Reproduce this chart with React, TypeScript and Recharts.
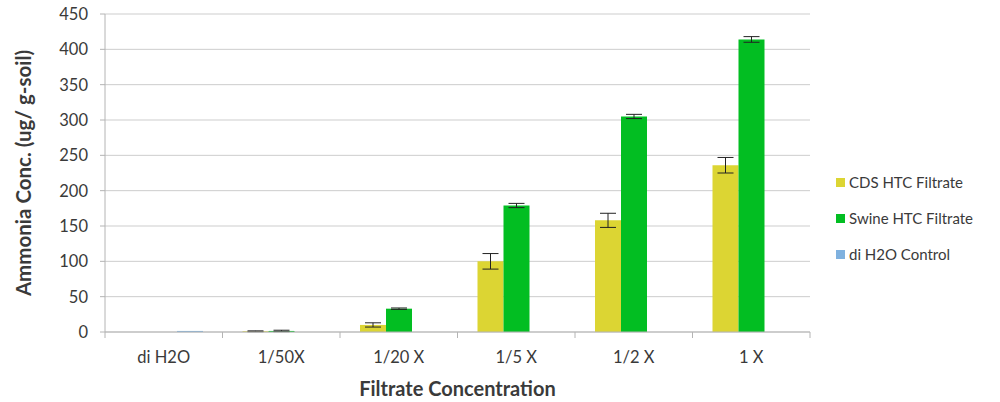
import { Bar, BarChart, CartesianGrid, ErrorBar, XAxis, YAxis } from 'recharts'

// Ammonia concentration by filtrate dilution, three series with error bars.

const categories = ['di H2O', '1/50X', '1/20 X', '1/5 X', '1/2 X', '1 X']
const cdsValues = [0, 1, 10, 100, 158, 236]
const cdsErrors = [null, 0.6, 3, 11, 10, 11]
const swineValues = [0, 1.5, 33, 179, 305, 414]
const swineErrors = [null, 1, 1, 3, 3, 4]
const controlValues = [1.5, 0, 0, 0, 0, 0]
const yTicks = [0, 50, 100, 150, 200, 250, 300, 350, 400, 450]

const SERIES = [
  { key: 'cds', name: 'CDS HTC Filtrate', color: '#dcd533' },
  { key: 'swine', name: 'Swine HTC Filtrate', color: '#02be22' },
  { key: 'control', name: 'di H2O Control', color: '#7fb1df' },
]

const data = categories.map((label, i) => ({
  label,
  cds: cdsValues[i],
  cdsErr: cdsErrors[i],
  swine: swineValues[i],
  swineErr: swineErrors[i],
  control: controlValues[i],
}))

const FONT = 'Lato, "Open Sans", sans-serif'
const TEXT = '#3a3a3a'
const AXIS = '#b4b4b4'
const GRID = '#cdcdcd'

const LEFT = 105
const RIGHT = 190
const WIDTH = 1000
const BAND = (WIDTH - LEFT - RIGHT) / categories.length

function XTick({ x, y, payload, index }: any) {
  const left = x - BAND / 2
  return (
    <g>
      <line x1={left} x2={left} y1={y - 8} y2={y - 2} stroke={AXIS} />
      {index === categories.length - 1 && (
        <line x1={x + BAND / 2} x2={x + BAND / 2} y1={y - 8} y2={y - 2} stroke={AXIS} />
      )}
      <text x={x} y={y + 23} textAnchor="middle" fill={TEXT} fontSize={16.5} fontFamily={FONT}>
        {payload.value}
      </text>
    </g>
  )
}

function LegendBox() {
  return (
    <div
      style={{
        position: 'absolute',
        left: 836,
        top: 164,
        fontFamily: FONT,
        fontSize: 15,
        color: TEXT,
      }}
    >
      {SERIES.map((s) => (
        <div key={s.key} style={{ display: 'flex', alignItems: 'center', height: 36 }}>
          <span
            style={{ width: 9, height: 9, background: s.color, marginRight: 4, display: 'inline-block' }}
          />
          {s.name}
        </div>
      ))}
    </div>
  )
}

export default function App() {
  return (
    <div style={{ position: 'absolute', left: 0, top: 0, width: WIDTH, height: 402, background: '#fff' }}>
      <BarChart
        width={WIDTH}
        height={402}
        data={data}
        margin={{ top: 14, right: RIGHT, bottom: 0, left: 0 }}
        barSize={26}
        barGap={0}
      >
        <CartesianGrid stroke={GRID} vertical={false} />
        <XAxis
          dataKey="label"
          height={70}
          axisLine={{ stroke: AXIS }}
          tickLine={false}
          tick={<XTick />}
          interval={0}
          label={{
            value: 'Filtrate Concentration',
            position: 'insideBottom',
            offset: 6,
            fill: TEXT,
            fontSize: 20,
            fontWeight: 700,
            fontFamily: FONT,
          }}
        />
        <YAxis
          width={LEFT}
          domain={[0, 450]}
          ticks={yTicks}
          interval={0}
          axisLine={{ stroke: AXIS }}
          tickLine={{ stroke: AXIS }}
          tickSize={5}
          tick={{ fill: TEXT, fontSize: 16.5, fontFamily: FONT }}
          tickMargin={12}
          label={{
            value: 'Ammonia Conc. (ug/ g-soil)',
            angle: -90,
            position: 'insideLeft',
            offset: 24,
            dy: 0,
            fill: TEXT,
            fontSize: 20.5,
            fontWeight: 700,
            fontFamily: FONT,
            style: { textAnchor: 'middle' },
          }}
        />
        <Bar dataKey="cds" name="CDS HTC Filtrate" fill={SERIES[0].color} isAnimationActive={false}>
          <ErrorBar dataKey="cdsErr" width={8} stroke="#222" strokeWidth={1} />
        </Bar>
        <Bar dataKey="swine" name="Swine HTC Filtrate" fill={SERIES[1].color} isAnimationActive={false}>
          <ErrorBar dataKey="swineErr" width={8} stroke="#222" strokeWidth={1} />
        </Bar>
        <Bar dataKey="control" name="di H2O Control" fill={SERIES[2].color} isAnimationActive={false} />
      </BarChart>
      <LegendBox />
    </div>
  )
}
